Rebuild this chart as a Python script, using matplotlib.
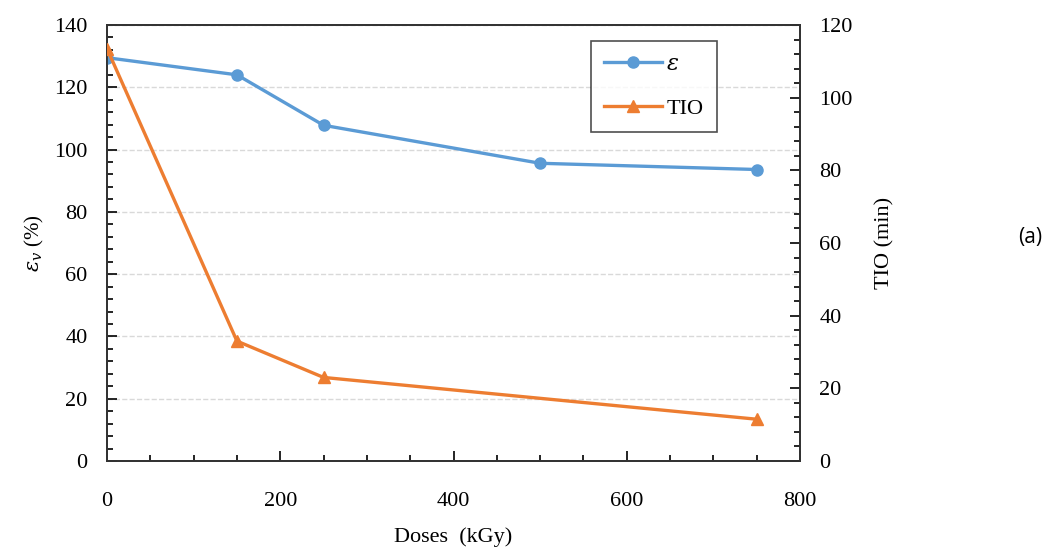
import matplotlib.pyplot as plt
from matplotlib.ticker import MultipleLocator

doses = [0, 150, 250, 500, 750]
eps_v = [129.5, 124.0, 107.8, 95.6, 93.6]
tio_doses = [0, 150, 250, 750]
tio_vals = [113.5, 33.0, 23.0, 11.5]

plt.rcParams['font.family'] = ['Liberation Serif', 'DejaVu Serif']
plt.rcParams['mathtext.fontset'] = 'dejavuserif'

fig = plt.figure(figsize=(10.58, 5.54), dpi=100)
ax = fig.add_axes([107 / 1058, 1 - 461 / 554, 693 / 1058, 436 / 554])
ax2 = ax.twinx()

blue = '#5B9BD5'
orange = '#ED7D31'

l1, = ax.plot(doses, eps_v, color=blue, lw=2.4, marker='o', ms=8, zorder=3)
l2, = ax2.plot(tio_doses, tio_vals, color=orange, lw=2.4, marker='^', ms=8, zorder=3)

ax.set_xlim(0, 800)
ax.set_ylim(0, 140)
ax2.set_ylim(0, 120)
ax.xaxis.set_major_locator(MultipleLocator(200))
ax.xaxis.set_minor_locator(MultipleLocator(50))
ax.yaxis.set_major_locator(MultipleLocator(20))
ax.yaxis.set_minor_locator(MultipleLocator(4))
ax2.yaxis.set_major_locator(MultipleLocator(20))
ax2.yaxis.set_minor_locator(MultipleLocator(4))

for a in (ax, ax2):
    a.tick_params(which='major', direction='in', length=7, width=1.2, labelsize=16, pad=14)
    a.tick_params(which='minor', direction='in', length=4, width=1.2)
    for s in a.spines.values():
        s.set_linewidth(1.3)
        s.set_color('#333333')

ax.tick_params(axis='x', pad=22)
ax.grid(axis='y', which='major', ls='--', color='#d9d9d9', lw=1)
ax.set_axisbelow(True)

ax.set_xlabel('Doses  (kGy)', fontsize=16, labelpad=12)
ax.set_ylabel(r'$\varepsilon_v$ (%)', fontsize=15, labelpad=6)
ax2.set_ylabel('TIO (min)', fontsize=16, labelpad=16)

leg = ax.legend([l1, l2], [r'$\varepsilon$', 'TIO'], loc='upper left',
                bbox_to_anchor=(0.698, 0.963), fontsize=16, frameon=True,
                fancybox=False, edgecolor='#222222', borderpad=0.6,
                borderaxespad=0, labelspacing=1.05, handlelength=2.6,
                handletextpad=0.2)
leg.get_frame().set_linewidth(1.2)
leg.set_zorder(5)

fig.text(1030 / 1058, 1 - 238 / 554, '(a)', fontsize=15, family='Open Sans', ha='center', va='center')

fig.savefig('out.png', dpi=100)
